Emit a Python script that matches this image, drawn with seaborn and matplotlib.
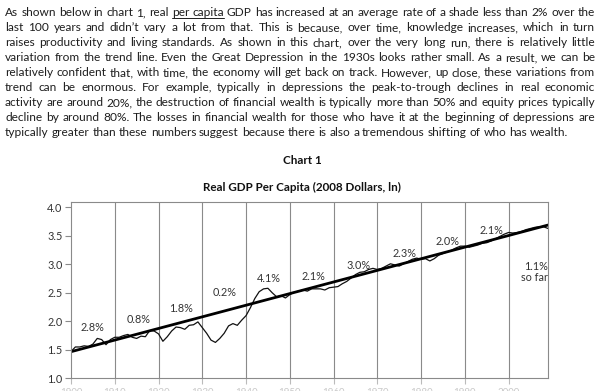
import matplotlib
matplotlib.use("Agg")
import matplotlib.pyplot as plt
import seaborn as sns
import pandas as pd
from matplotlib.lines import Line2D

# --- data ---
years = list(range(1900, 2010))
gdp_ln = [
    1.47, 1.55, 1.55, 1.57, 1.56, 1.60, 1.70, 1.68, 1.59, 1.68,
    1.72, 1.72, 1.75, 1.77, 1.72, 1.70, 1.74, 1.73, 1.84, 1.83,
    1.78, 1.65, 1.73, 1.83, 1.90, 1.89, 1.86, 1.93, 1.94, 1.99,
    1.89, 1.79, 1.67, 1.63, 1.70, 1.79, 1.92, 1.96, 1.93, 2.02,
    2.10, 2.24, 2.40, 2.52, 2.57, 2.58, 2.50, 2.43, 2.45, 2.41,
    2.47, 2.51, 2.53, 2.55, 2.53, 2.57, 2.57, 2.57, 2.55, 2.59,
    2.60, 2.61, 2.66, 2.70, 2.76, 2.82, 2.86, 2.87, 2.91, 2.93,
    2.91, 2.93, 2.97, 3.01, 2.99, 2.97, 3.01, 3.05, 3.09, 3.11,
    3.09, 3.10, 3.06, 3.10, 3.16, 3.19, 3.22, 3.25, 3.29, 3.32,
    3.32, 3.30, 3.32, 3.34, 3.37, 3.38, 3.41, 3.45, 3.49, 3.53,
    3.56, 3.55, 3.56, 3.58, 3.61, 3.63, 3.65, 3.66, 3.66, 3.63,
]
trend_years = [1900, 2009]
trend_ln = [1.467, 3.69]

decade_ticks = list(range(1900, 2010, 10))
decade_tick_labels = [str(y) for y in decade_ticks]
growth_labels = ["2.8%", "0.8%", "1.8%", "0.2%", "4.1%", "2.1%",
                 "3.0%", "2.3%", "2.0%", "2.1%"]
growth_x = [1904.9, 1915.4, 1925.1, 1935.2, 1945.3, 1955.3,
            1965.6, 1976.3, 1986.1, 1996.0]
growth_y = [1.89, 2.04, 2.23, 2.50, 2.75, 2.78, 2.98, 3.19, 3.40, 3.60]

paragraph = [
    "As shown below in chart 1, real per capita GDP has increased at an average rate of a shade less than 2% over the",
    "last 100 years and didn’t vary a lot from that.  This is because, over time, knowledge increases, which in turn",
    "raises productivity and living standards.  As shown in this chart, over the very long run, there is relatively little",
    "variation from the trend line.  Even the Great Depression in the 1930s looks rather small.  As a result, we can be",
    "relatively confident that, with time, the economy will get back on track.   However, up close, these variations from",
    "trend can be enormous. For example, typically in depressions the peak-to-trough declines in real economic",
    "activity are around 20%, the destruction of financial wealth is typically more than 50% and equity prices typically",
    "decline by around 80%. The losses in financial wealth for those who have it at the beginning of depressions are",
    "typically greater than these numbers suggest because there is also a tremendous shifting of who has wealth.",
]

sns.set_style("white")
plt.rcParams["font.family"] = ["Lato", "DejaVu Sans"]

W, H = 600, 391
fig = plt.figure(figsize=(W / 100, H / 100), dpi=100)
renderer = fig.canvas.get_renderer()
txt_color = "#1e1e1e"


def word_width(word, size):
    t = fig.text(0, 0, word, fontsize=size)
    w = t.get_window_extent(renderer).width
    t.remove()
    return w


# pick a font size where every justified line still has some gap
left_px, right_px = 5, 595
size = 8.8
while size > 6:
    ok = True
    for line in paragraph[:-1]:
        words = line.split()
        total = sum(word_width(w, size) for w in words)
        if (right_px - left_px - total) / (len(words) - 1) < 2.4:
            ok = False
            break
    if ok:
        break
    size -= 0.2

space_w = word_width("a a", size) - 2 * word_width("a", size)
for i, line in enumerate(paragraph):
    words = line.split()
    widths = [word_width(w, size) for w in words]
    if i < len(paragraph) - 1:
        gap = (right_px - left_px - sum(widths)) / (len(words) - 1)
    else:
        gap = space_w
    base = 16 + 15 * i
    x = left_px
    ul = []
    for w, wd in zip(words, widths):
        fig.text(x / W, 1 - base / H, w, fontsize=size, color=txt_color,
                 ha="left", va="baseline")
        if i == 0 and w in ("per", "capita"):
            ul.append((x, x + wd))
        x += wd + gap
    if ul:
        fig.add_artist(Line2D([ul[0][0] / W, ul[-1][1] / W],
                              [1 - (base + 2) / H] * 2,
                              transform=fig.transFigure, lw=0.7, color=txt_color))

# titles
fig.text(302 / W, 1 - 161 / H, "Chart 1", fontsize=8.4, fontweight="bold",
         ha="center", va="center", color="#111")
fig.text(302 / W, 1 - 187 / H, "Real GDP Per Capita (2008 Dollars, ln)",
         fontsize=8.4, fontweight="bold", ha="center", va="center", color="#111")

# chart
ax = fig.add_axes([71 / W, 1 - 378.3 / H, (548 - 71) / W, (378.3 - 201.7) / H])
df = pd.DataFrame({"year": years, "gdp": gdp_ln})
trend = pd.DataFrame({"year": trend_years, "gdp": trend_ln})
sns.lineplot(data=df, x="year", y="gdp", ax=ax, color="#111", lw=0.9)
sns.lineplot(data=trend, x="year", y="gdp", ax=ax, color="#000", lw=2.0)

for gx, gy, gl in zip(growth_x, growth_y, growth_labels):
    ax.text(gx, gy, gl, fontsize=7.8, ha="center", va="center", color="#333")
ax.text(2008.9, 2.87, "1.1%\nso far", fontsize=7.8, ha="right", va="center",
        multialignment="right", color="#333", linespacing=1.0)

ax.set_xlim(1900, 2009)
ax.set_ylim(1.0, 4.1)
ax.set_yticks([1.0, 1.5, 2.0, 2.5, 3.0, 3.5, 4.0])
ax.set_yticklabels(["1.0", "1.5", "2.0", "2.5", "3.0", "3.5", "4.0"])
ax.set_xticks(decade_ticks)
ax.set_xticklabels(decade_tick_labels)
for d in decade_ticks[1:]:
    ax.axvline(d, color="#8a8a8a", lw=0.8, zorder=0)
ax.set_xlabel("")
ax.set_ylabel("")
for s in ax.spines.values():
    s.set_color("#8a8a8a")
    s.set_linewidth(0.8)
ax.tick_params(axis="y", length=4, width=0.8, color="#8a8a8a", labelsize=7.8,
               labelcolor="#333", pad=2, left=True)
ax.tick_params(axis="x", length=4, width=0.8, color="#bbbbbb", labelsize=7,
               labelcolor="#c8c8c8", pad=3, bottom=True)

fig.savefig("out.png", dpi=100)
